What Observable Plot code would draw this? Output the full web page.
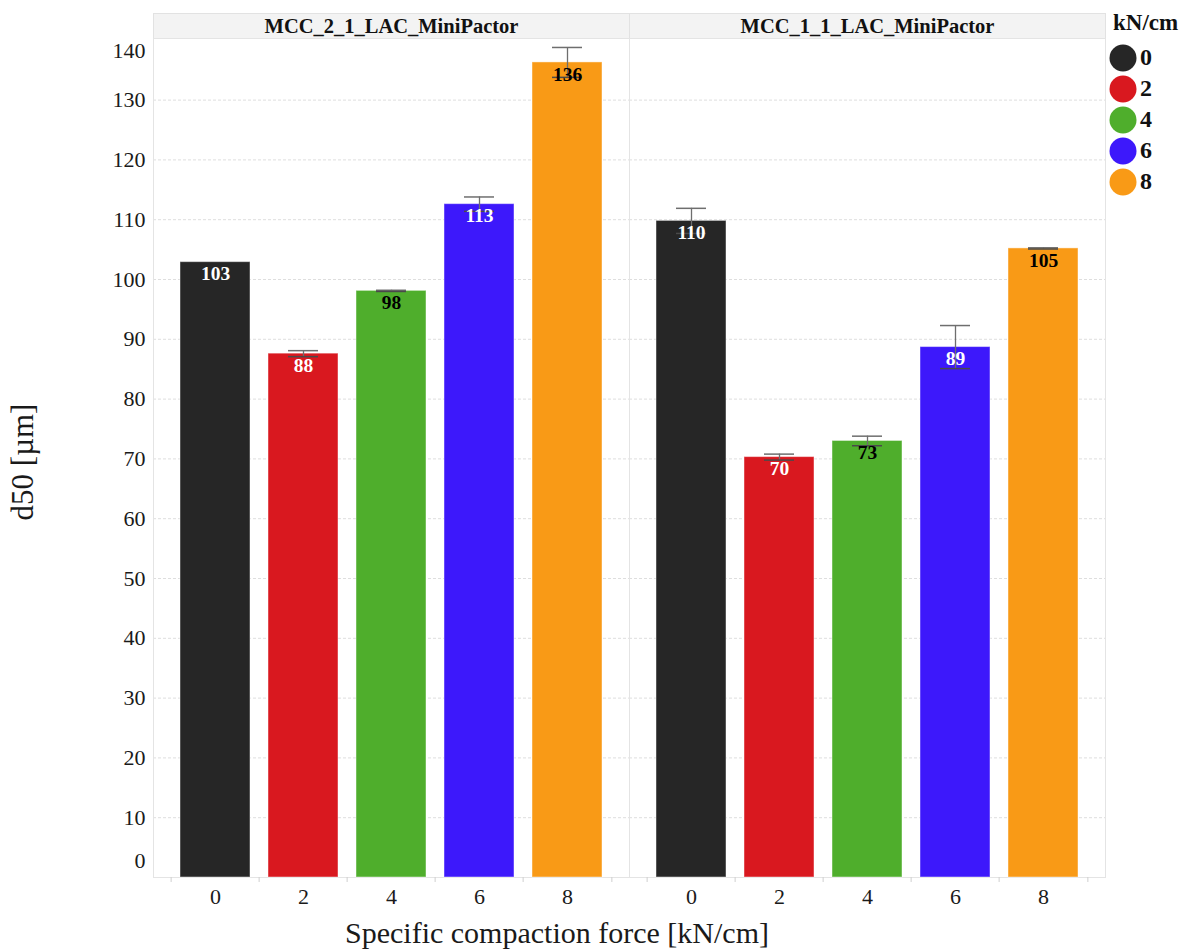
<!DOCTYPE html>
<html>
<head>
<meta charset="utf-8">
<script src="https://cdn.jsdelivr.net/npm/d3@7"></script>
<script src="https://cdn.jsdelivr.net/npm/@observablehq/plot@0.6"></script>
<style>
  body { margin: 0; background: #fff; }
  #chart svg { display: block; }
</style>
</head>
<body>
<div id="chart"></div>
<script>
// Granule size (d50) by specific compaction force, two formulations
const facets = ["MCC_2_1_LAC_MiniPactor", "MCC_1_1_LAC_MiniPactor"];
const forces = ["0", "2", "4", "6", "8"];
const meanMCC21 = [102.9, 87.6, 98.1, 112.6, 136.3];
const sdMCC21 = [null, 0.5, 0.1, 1.2, 2.5];
const meanMCC11 = [109.8, 70.3, 73.0, 88.7, 105.2];
const sdMCC11 = [2.1, 0.5, 0.8, 3.6, 0.1];
const yTicks = [0, 10, 20, 30, 40, 50, 60, 70, 80, 90, 100, 110, 120, 130, 140];
const palette = ["#262626", "#d9181f", "#4fae2c", "#3d18fb", "#f99a16"];

const rows = [
  ...forces.map((f, i) => ({facet: facets[0], force: f, mean: meanMCC21[i], sd: sdMCC21[i]})),
  ...forces.map((f, i) => ({facet: facets[1], force: f, mean: meanMCC11[i], sd: sdMCC11[i]}))
];
const withErr = rows.filter(d => d.sd != null);
const colorOf = f => palette[forces.indexOf(f)];
const darkBar = d => d3.lab(colorOf(d.force)).l < 55;
const fmt = d3.format(".0f");

const W = 1187, H = 949;
const mT = 38, mR = 82, mB = 72, mL = 152;
const frameH = H - mT - mB;
const headerH = 25;
const serif = "'Liberation Serif', 'Times New Roman', serif";

const midTicks = yTicks.filter(t => t > 0 && t < 140);
const step = (W - mL - mR) / 2 / (5 - 0.2 + 2 * 0.285);

const plot = Plot.plot({
  width: W,
  height: H,
  marginTop: mT,
  marginRight: mR,
  marginBottom: mB,
  marginLeft: mL,
  style: {fontFamily: serif, fontSize: "22px", color: "#1a1a1a", background: "#fff"},
  fx: {domain: facets, padding: 0, axis: null},
  x: {domain: forces, paddingInner: 0.2, paddingOuter: 0.285},
  y: {domain: [0, 140.3]},
  color: {domain: forces, range: palette},
  marks: [
    // facet header strip
    Plot.frame({fill: "#f3f3f3", stroke: "#e2e2e2", insetTop: -headerH, insetBottom: frameH}),
    Plot.text(facets, {fx: d => d, text: d => d, frameAnchor: "top", lineAnchor: "middle", dy: -12.5, fontWeight: "bold", fontSize: 20.5, fill: "#111"}),
    // dashed grid
    Plot.ruleY(midTicks, {stroke: "#dedede", strokeDasharray: "3,2"}),
    Plot.frame({stroke: "#e4e4e4"}),
    // band boundary ticks along the x axis
    Plot.ruleX(forces, {x: d => d, dx: -step / 2, insetTop: frameH, insetBottom: -5, stroke: "#cfcfcf"}),
    Plot.ruleX([forces[forces.length - 1]], {x: d => d, dx: step / 2, insetTop: frameH, insetBottom: -5, stroke: "#cfcfcf"}),
    // bars
    Plot.barY(rows, {fx: "facet", x: "force", y: "mean", fill: "force", stroke: "#ffffff", strokeOpacity: 0.45}),
    // error bars
    Plot.ruleX(withErr, {fx: "facet", x: "force", y1: d => d.mean - d.sd, y2: d => d.mean + d.sd, stroke: "#6e6e6e", strokeWidth: 1.3}),
    Plot.tickY(withErr, {fx: "facet", x: "force", y: d => d.mean + d.sd, insetLeft: 20, insetRight: 20, stroke: "#6e6e6e", strokeWidth: 1.5}),
    Plot.tickY(withErr, {fx: "facet", x: "force", y: d => d.mean - d.sd, insetLeft: 20, insetRight: 20, stroke: "#4a4a4a", strokeWidth: 1.5}),
    // value labels
    Plot.text(rows.filter(darkBar), {fx: "facet", x: "force", y: "mean", text: d => fmt(d.mean), dy: 12, fill: "#fff", fontWeight: "bold", fontSize: 19.5}),
    Plot.text(rows.filter(d => !darkBar(d)), {fx: "facet", x: "force", y: "mean", text: d => fmt(d.mean), dy: 12, fill: "#000", fontWeight: "bold", fontSize: 19.5}),
    // axes
    Plot.axisY(midTicks, {tickSize: 0, tickPadding: 8, fontSize: 22, label: null}),
    Plot.axisY([yTicks[0]], {tickSize: 0, tickPadding: 8, fontSize: 22, dy: -17, label: null}),
    Plot.axisY([yTicks[yTicks.length - 1]], {tickSize: 0, tickPadding: 8, fontSize: 22, dy: 11, label: null}),
    Plot.axisX({tickSize: 0, tickPadding: 11, fontSize: 22, label: null})
  ]
});

const svg = d3.select(plot);

// axis titles
svg.append("text")
  .attr("transform", "translate(26,462) rotate(-90)")
  .attr("text-anchor", "middle")
  .attr("dominant-baseline", "middle")
  .attr("font-size", 31)
  .attr("fill", "#1a1a1a")
  .text("d50 [µm]");

svg.append("text")
  .attr("x", 557)
  .attr("y", 943)
  .attr("text-anchor", "middle")
  .attr("font-size", 30)
  .attr("fill", "#1a1a1a")
  .text("Specific compaction force [kN/cm]");

// colour legend
const leg = svg.append("g").attr("transform", "translate(1110,0)").attr("text-anchor", "start");
leg.append("text")
  .attr("x", 3).attr("y", 25)
  .attr("text-anchor", "start")
  .attr("dominant-baseline", "middle")
  .attr("font-size", 23).attr("font-weight", "bold").attr("fill", "#111")
  .text("kN/cm");
const color = plot.scale("color");
color.domain.forEach((f, i) => {
  const g = leg.append("g").attr("transform", `translate(0,${58 + i * 31})`);
  g.append("circle").attr("cx", 13).attr("cy", 0).attr("r", 13.5).attr("fill", color.range[i]);
  g.append("text").attr("x", 30).attr("y", 1)
    .attr("text-anchor", "start")
    .attr("dominant-baseline", "middle")
    .attr("font-size", 24).attr("font-weight", "bold").attr("fill", "#111")
    .text(f);
});

document.getElementById("chart").appendChild(plot);
</script>
</body>
</html>
